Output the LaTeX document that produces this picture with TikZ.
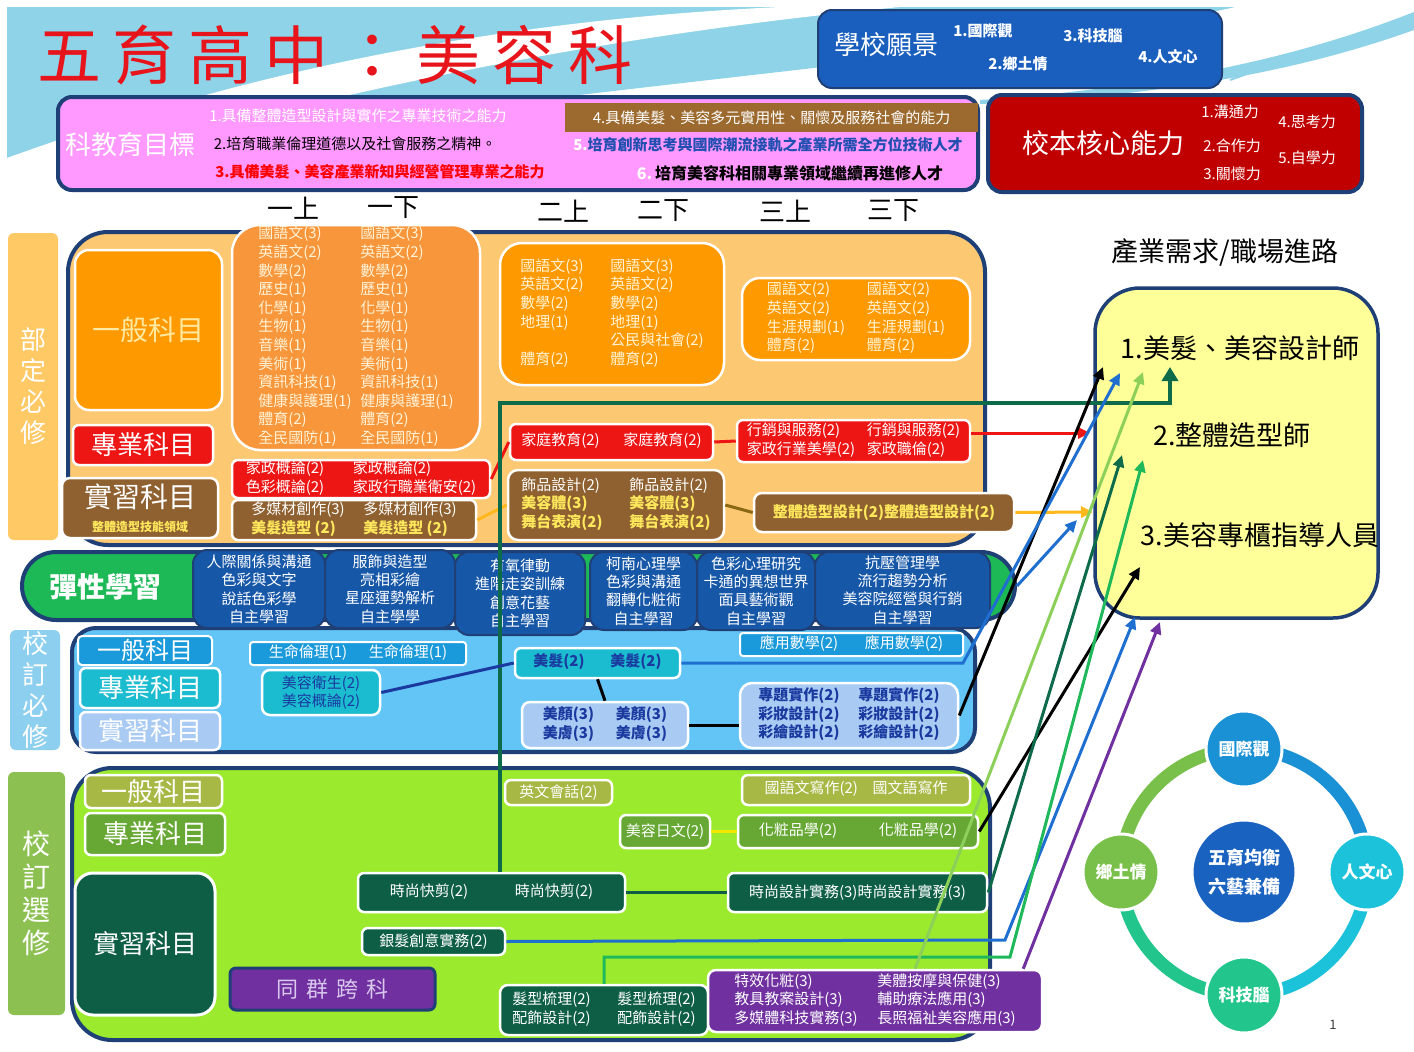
\documentclass[tikz,border=0pt]{standalone}
\usepackage{fontspec}
\setmainfont{Noto Sans CJK TC}
\usetikzlibrary{arrows.meta,positioning,calc}

\definecolor{skyback}{HTML}{8FD3E8}
\definecolor{titlered}{HTML}{E8141B}
\definecolor{frameblue}{HTML}{1F3F77}
\definecolor{visionblue}{HTML}{1A5FBE}
\definecolor{goalpink}{HTML}{FF99FF}
\definecolor{goalbrown}{HTML}{9C6A2E}
\definecolor{goalblue}{HTML}{1F4FB0}
\definecolor{corered}{HTML}{C00000}
\definecolor{buside}{HTML}{FFC966}
\definecolor{bupanel}{HTML}{FDC872}
\definecolor{buorange}{HTML}{FF9900}
\definecolor{bulight}{HTML}{F8963C}
\definecolor{orangetext}{HTML}{FFF3D6}
\definecolor{catyellow}{HTML}{FFE9A0}
\definecolor{pured}{HTML}{EE1515}
\definecolor{labbrown}{HTML}{8F6130}
\definecolor{labyellow}{HTML}{FFE85C}
\definecolor{flexgreen}{HTML}{1DB957}
\definecolor{flexblue}{HTML}{1657A8}
\definecolor{srside}{HTML}{8DCFEE}
\definecolor{srpanel}{HTML}{63C5F5}
\definecolor{srblue}{HTML}{1A9ADB}
\definecolor{srteal}{HTML}{1CBCD0}
\definecolor{srlav}{HTML}{A9CBF3}
\definecolor{srtext}{HTML}{1A3AA0}
\definecolor{seside}{HTML}{8CC152}
\definecolor{sepanel}{HTML}{9BEA2E}
\definecolor{seolive}{HTML}{A8B844}
\definecolor{segreen}{HTML}{66A833}
\definecolor{sedark}{HTML}{0D5E45}
\definecolor{sepurple}{HTML}{7030A0}
\definecolor{crosstext}{HTML}{D9C7EE}
\definecolor{careeryellow}{HTML}{FFFF99}
\definecolor{lnblue}{HTML}{1F6FD0}
\definecolor{lngreen}{HTML}{1FB85A}
\definecolor{lnlight}{HTML}{8CD05A}
\definecolor{lndark}{HTML}{0E6B4A}
\definecolor{lnorange}{HTML}{FFB81C}
\definecolor{lnbrown}{HTML}{8B6914}
\definecolor{lnjpn}{HTML}{F5E600}
\definecolor{wheelgreen}{HTML}{78C04A}
\definecolor{wheelblue}{HTML}{1A90D5}
\definecolor{wheelcyan}{HTML}{1CC2DA}
\definecolor{wheelteal}{HTML}{22C68C}
\definecolor{wheelcore}{HTML}{1A62C0}

\newcommand{\twocol}[2]{\begin{tabular}{@{}p{#1}@{}l@{}}#2\end{tabular}}
\newcommand{\yb}[1]{\leavevmode{\bfseries\color{labyellow}#1}}
\newcommand{\gapch}{\hspace{12pt}}

\begin{document}
\begin{tikzpicture}[x=1pt, y=-1pt,
  wh/.style 2 args={minimum width=#1, minimum height=#2},
  card/.style={draw=white, line width=2.5pt, rounded corners=6pt, inner sep=0pt, text=white, font=\fontsize{15}{18.6}\selectfont},
  panel/.style={draw=frameblue, line width=4pt, inner sep=0pt},
  sidelab/.style={rounded corners=6pt, inner sep=0pt, text=white, align=center, font=\fontsize{26}{31}\selectfont},
  cat/.style={card, font=\fontsize{26}{26}\selectfont},
  flexbox/.style={draw=frameblue, line width=2pt, rounded corners=14pt, fill=flexblue, inner sep=0pt, text=white, align=center, font=\fontsize{15}{18.4}\selectfont},
  goal/.style={inner sep=0pt, font=\fontsize{15}{15}\selectfont},
  item/.style={inner sep=0pt, text=white, font=\fontsize{15}{15}\selectfont},
  sem/.style={inner sep=0pt, font=\fontsize{26}{26}\selectfont},
  job/.style={inner sep=0pt, font=\fontsize{27}{27}\selectfont},
  bubble/.style={circle, draw=white, line width=3pt, inner sep=0pt, minimum size=76, text=white, font=\bfseries\fontsize{17}{17}\selectfont},
  link/.style={line width=3pt},
  arr/.style={line width=3pt, -{Triangle[length=12pt,width=11pt]}}]

\useasboundingbox (0,0) rectangle (1414,1052);
\fill[white] (0,0) rectangle (1414,1052);

% background swoosh
\fill[skyback] (7,7) -- (1235,7) .. controls (1000,60) and (500,90) .. (7,175) -- cycle;
\fill[white] (7,158) .. controls (250,70) and (500,20) .. (780,7) -- (900,7) .. controls (550,40) and (260,110) .. (7,185) -- cycle;
\fill[skyback] (980,100) .. controls (1200,85) and (1330,45) .. (1414,12) -- (1414,30) .. controls (1330,60) and (1200,95) .. (980,104) -- cycle;
\draw[skyback, line width=2pt] (1230,80) .. controls (1300,55) and (1360,35) .. (1414,22);

% title and header boxes
\node[inner sep=0pt, text=titlered, font=\fontsize{64}{64}\selectfont] (title) at (335,55) {五\gapch 育\gapch 高\gapch 中\gapch ：\gapch 美\gapch 容\gapch 科};

\node[fill=visionblue, draw=frameblue, line width=2pt, rounded corners=14pt, wh={404}{78}] (vision) at (1020,49) {};
\node[inner sep=0pt, text=white, font=\fontsize{26}{26}\selectfont] (vision-t) at (886,45) {學校願景};
\node[item, font=\bfseries\fontsize{15}{15}\selectfont] (v1) at (983,31) {1.國際觀};
\node[item, font=\bfseries\fontsize{15}{15}\selectfont] (v3) at (1093,36) {3.科技腦};
\node[item, font=\bfseries\fontsize{15}{15}\selectfont] (v2) at (1018,64) {2.鄉土情};
\node[item, font=\bfseries\fontsize{15}{15}\selectfont] (v4) at (1168,57) {4.人文心};

\node[fill=goalpink, draw=frameblue, line width=4pt, rounded corners=14pt, wh={920}{93}] (goals) at (518,143.5) {};
\node[fill=goalbrown, inner sep=0pt, wh={413}{29}] (goal4bar) at (771.5,117.5) {};
\node[inner sep=0pt, text=white, font=\fontsize{26}{26}\selectfont] (goals-t) at (130,145) {科教育目標};
\node[goal, text=white] (g1) at (358,116) {1.具備整體造型設計與實作之專業技術之能力};
\node[goal, text=black] (g2) at (355,144) {2.培育職業倫理道德以及社會服務之精神。};
\node[goal, text=red, font=\bfseries\fontsize{15}{15}\selectfont] (g3) at (380,172) {3.具備美髮、美容產業新知與經營管理專業之能力};
\node[goal, text=white] (g4) at (771.5,117.5) {4.具備美髮、美容多元實用性、關懷及服務社會的能力};
\node[goal, text=goalblue, font=\bfseries\fontsize{15}{15}\selectfont] (g5) at (768,145) {{\color{white}5.}培育創新思考與國際潮流接軌之產業所需全方位技術人才};
\node[goal, text=black, font=\bfseries\fontsize{16}{16}\selectfont] (g6) at (790,173) {{\color{white}6.}\,培育美容科相關專業領域繼續再進修人才};

\node[fill=corered, draw=frameblue, line width=4pt, rounded corners=14pt, wh={374}{97}] (core) at (1175,143.5) {};
\node[inner sep=0pt, text=white, font=\fontsize{27}{27}\selectfont] (core-t) at (1103,143) {校本核心能力};
\node[item] (c1) at (1230,112) {1.溝通力};
\node[item] (c2) at (1232,146) {2.合作力};
\node[item] (c3) at (1232,174) {3.關懷力};
\node[item] (c4) at (1307,122) {4.思考力};
\node[item] (c5) at (1307,158) {5.自學力};

% semesters
\node[sem] (s11) at (293,208) {一上};
\node[sem] (s12) at (393,208) {一下};
\node[sem] (s21) at (563,211) {二上};
\node[sem] (s22) at (663,211) {二下};
\node[sem] (s31) at (785,211) {三上};
\node[sem] (s32) at (893,211) {三下};

% panels
\node[sidelab, fill=buside, wh={50}{307}] (bu-side) at (33,386.5) {部\\定\\必\\修};
\node[panel, fill=bupanel, rounded corners=40pt, wh={917}{313}] (bu-panel) at (526.5,388.5) {};
\node[sidelab, fill=srside, wh={50}{120}] (sr-side) at (35,690) {校\\訂\\必\\修};
\node[panel, fill=srpanel, rounded corners=24pt, wh={903}{124}] (sr-panel) at (523.5,690) {};
\node[sidelab, fill=seside, wh={57}{243}, font=\fontsize{28}{33}\selectfont] (se-side) at (36.5,893.5) {校\\訂\\選\\修};
\node[panel, fill=sepanel, rounded corners=40pt, wh={918}{272}] (se-panel) at (531,904) {};

% required by ministry
\node[cat, fill=buorange, rounded corners=14pt, text=catyellow, font=\fontsize{28}{28}\selectfont, wh={147}{160}] (bu-gen) at (148.5,330) {一般科目};
\node[cat, fill=pured, wh={140}{40}] (bu-pro) at (143,445) {專業科目};
\node[cat, fill=labbrown, rounded corners=8pt, wh={156}{60}, align=center] (bu-lab) at (140,508) {\fontsize{28}{28}\selectfont 實習科目\\[-2pt]\fontsize{12}{12}\selectfont\bfseries\color{labyellow}整體造型技能領域};

\node[card, fill=bulight, rounded corners=28pt, text=orangetext, wh={248}{225}] (bu-g1) at (356,337.5) {\twocol{102pt}{國語文(3) & 國語文(3)\\ 英語文(2) & 英語文(2)\\ 數學(2) & 數學(2)\\ 歷史(1) & 歷史(1)\\ 化學(1) & 化學(1)\\ 生物(1) & 生物(1)\\ 音樂(1) & 音樂(1)\\ 美術(1) & 美術(1)\\ 資訊科技(1) & 資訊科技(1)\\ 健康與護理(1) & 健康與護理(1)\\ 體育(2) & 體育(2)\\ 全民國防(1) & 全民國防(1)}};
\node[card, fill=buorange, rounded corners=22pt, text=orangetext, wh={224}{142}] (bu-g2) at (612,314) {\twocol{90pt}{國語文(3) & 國語文(3)\\ 英語文(2) & 英語文(2)\\ 數學(2) & 數學(2)\\ 地理(1) & 地理(1)\\ & 公民與社會(2)\\ 體育(2) & 體育(2)}};
\node[card, fill=buorange, rounded corners=18pt, text=orangetext, wh={228}{82}] (bu-g3) at (856,319) {\twocol{100pt}{國語文(2) & 國語文(2)\\ 英語文(2) & 英語文(2)\\ 生涯規劃(1) & 生涯規劃(1)\\ 體育(2) & 體育(2)}};

\node[card, fill=pured, wh={258}{38}] (bu-p1) at (361,479) {\twocol{107pt}{家政概論(2) & 家政概論(2)\\ 色彩概論(2) & 家政行職業衛安(2)}};
\node[card, fill=pured, wh={203}{36}] (bu-p2) at (611.5,442) {\twocol{102pt}{家庭教育(2) & 家庭教育(2)}};
\node[card, fill=pured, wh={233}{42}] (bu-p3) at (853.5,441) {\twocol{120pt}{行銷與服務(2) & 行銷與服務(2)\\ 家政行業美學(2) & 家政職倫(2)}};

\node[card, fill=labbrown, wh={244}{40}] (bu-l1) at (354,520) {\twocol{112pt}{多媒材創作(3) & 多媒材創作(3)\\ \yb{美髮造型 (2)} & \yb{美髮造型 (2)}}};
\node[card, fill=labbrown, rounded corners=10pt, wh={216}{70}] (bu-l2) at (616,505) {\twocol{108pt}{飾品設計(2) & 飾品設計(2)\\ \yb{美容體(3)} & \yb{美容體(3)}\\ \yb{舞台表演(2)} & \yb{舞台表演(2)}}};
\node[card, fill=labbrown, rounded corners=8pt, text=labyellow, font=\bfseries\fontsize{15}{18.6}\selectfont, wh={260}{39}] (bu-l3) at (884,512.5) {整體造型設計(2)整體造型設計(2)};

% flexible learning
\node[fill=flexgreen, draw=frameblue, line width=4pt, rounded corners=34pt, wh={993}{68}] (flex) at (518.5,586) {};
\node[inner sep=0pt, text=white, font=\bfseries\fontsize{28}{28}\selectfont] (flex-t) at (105,587) {彈性學習};
\node[flexbox, wh={132}{78}] (fx1) at (259,589) {人際關係與溝通\\色彩與文字\\說話色彩學\\自主學習};
\node[flexbox, wh={130}{78}] (fx2) at (390,589) {服飾與造型\\亮相彩繪\\星座運勢解析\\自主學學};
\node[flexbox, wh={130}{83}] (fx3) at (520,593.5) {有氧律動\\進階走姿訓練\\創意花藝\\自主學習};
\node[flexbox, wh={107}{78}] (fx4) at (643.5,591) {柯南心理學\\色彩與溝通\\翻轉化粧術\\自主學習};
\node[flexbox, wh={118}{78}] (fx5) at (756,591) {色彩心理研究\\卡通的異想世界\\面具藝術觀\\自主學習};
\node[flexbox, wh={175}{76}] (fx6) at (902.5,590) {抗壓管理學\\流行趨勢分析\\美容院經營與行銷\\自主學習};

% school required
\node[cat, fill=srblue, line width=2pt, rounded corners=4pt, font=\fontsize{24}{24}\selectfont, wh={134}{29}] (sr-gen) at (145,650.5) {一般科目};
\node[cat, fill=srteal, wh={140}{40}] (sr-pro) at (150,688) {專業科目};
\node[cat, fill=srlav, wh={140}{38}] (sr-lab) at (150,731) {實習科目};
\node[card, fill=srblue, line width=2pt, rounded corners=3pt, wh={216}{23}] (sr-life) at (358,653.5) {\twocol{100pt}{生命倫理(1) & 生命倫理(1)}};
\node[card, fill=srteal, rounded corners=8pt, text=srtext, align=center, wh={118}{45}] (sr-care) at (321,692.5) {美容衛生(2)\\美容概論(2)};
\node[card, fill=srteal, text=srtext, font=\bfseries\fontsize{15}{18.6}\selectfont, wh={165}{30}] (sr-hair) at (597.5,663) {\twocol{77pt}{美髮(2) & 美髮(2)}};
\node[card, fill=srblue, line width=2pt, rounded corners=3pt, wh={223}{23}] (sr-math) at (851.5,644.5) {\twocol{105pt}{應用數學(2) & 應用數學(2)}};
\node[card, fill=srlav, rounded corners=8pt, text=srtext, font=\bfseries\fontsize{15}{18.6}\selectfont, wh={166}{46}] (sr-face) at (605,725) {\twocol{73pt}{美顏(3) & 美顏(3)\\ 美膚(3) & 美膚(3)}};
\node[card, fill=srlav, rounded corners=12pt, text=srtext, font=\bfseries\fontsize{15}{18.6}\selectfont, wh={218}{65}] (sr-proj) at (849,715.5) {\twocol{100pt}{專題實作(2) & 專題實作(2)\\ 彩妝設計(2) & 彩妝設計(2)\\ 彩繪設計(2) & 彩繪設計(2)}};

% school elective
\node[cat, fill=seolive, wh={137}{33}] (se-gen) at (153.5,791.5) {一般科目};
\node[cat, fill=segreen, wh={140}{42}] (se-pro) at (155,834) {專業科目};
\node[cat, fill=sedark, line width=3pt, rounded corners=18pt, wh={140}{142}] (se-lab) at (145,944) {實習科目};
\node[fill=sepurple, draw=frameblue, line width=3pt, rounded corners=6pt, text=crosstext, font=\fontsize{22}{22}\selectfont, wh={205}{42}] (se-cross) at (332.5,989) {同\hspace{8pt}群\hspace{8pt}跨\hspace{8pt}科};
\node[card, fill=seolive, wh={107}{25}] (se-eng) at (558.5,792.5) {英文會話(2)};
\node[card, fill=seolive, wh={228}{30}] (se-chn) at (856,790) {\twocol{108pt}{國語文寫作(2) & 國文語寫作}};
\node[card, fill=segreen, wh={90}{33}] (se-jpn) at (665,831.5) {美容日文(2)};
\node[card, fill=segreen, wh={240}{33}] (se-cos) at (858,831.5) {\twocol{120pt}{化粧品學(2) & 化粧品學(2)}};
\node[card, fill=sedark, wh={267}{39}] (se-cut) at (491.5,892.5) {\twocol{125pt}{時尚快剪(2) & 時尚快剪(2)}};
\node[card, fill=sedark, wh={259}{39}] (se-fash) at (857.5,892.5) {時尚設計實務(3)時尚設計實務(3)};
\node[card, fill=sedark, wh={143}{27}] (se-silver) at (433.5,941.5) {銀髮創意實務(2)};
\node[card, fill=sedark, rounded corners=8pt, wh={208}{50}] (se-style) at (604,1010) {\twocol{105pt}{髮型梳理(2) & 髮型梳理(2)\\ 配飾設計(2) & 配飾設計(2)}};
\node[card, fill=sepurple, rounded corners=8pt, wh={334}{62}] (se-spec) at (875,1001) {\twocol{143pt}{特效化粧(3) & 美體按摩與保健(3)\\ 教具教案設計(3) & 輔助療法應用(3)\\ 多媒體科技實務(3) & 長照福祉美容應用(3)}};

% careers
\node[inner sep=0pt, font=\fontsize{27}{27}\selectfont] (career-t) at (1225,252) {產業需求/職場進路};
\node[fill=careeryellow, draw=frameblue, line width=3.5pt, rounded corners=45pt, wh={283}{330}] (career) at (1236.5,453) {};
\node[job] (job1) at (1240,348) {1.美髮、美容設計師};
\node[job] (job2) at (1232,435) {2.整體造型師};
\node[job] (job3) at (1260,535) {3.美容專櫃指導人員};

\coordinate (t-red) at (1090,433);
\coordinate (t-orange) at (1093,512);
\coordinate (t-dg) at (1170,367);
\coordinate (t-black1) at (1103,367);
\coordinate (t-blue1) at (1120,373);
\coordinate (t-light) at (1143,372);
\coordinate (t-dark2) at (1122,455);
\coordinate (t-green2) at (1143,460);
\coordinate (t-black3) at (1140,567);
\coordinate (t-blue3) at (1135,617);
\coordinate (t-purple3) at (1160,622);
\coordinate (t-flex) at (1077,520);
\coordinate (k-dg) at (500,403);
\coordinate (k-hair) at (963,663);
\coordinate (k-silver) at (1005,940);
\coordinate (k-style) at (1010,957);

% connectors
\draw[link, pured] (bu-p1.east) -- (bu-p2.west);
\draw[link, pured] (bu-p2.east) -- (bu-p3.west);
\draw[arr, pured] (bu-p3.east |- t-red) -- (t-red);
\draw[link, lnorange] (bu-l1.east) -- (bu-l2.west);
\draw[link, lnbrown] (bu-l2.east) -- (bu-l3.west);
\draw[arr, lnorange] (bu-l3.east) -- (t-orange);
\draw[link, lndark, line width=3.5pt, -{Triangle[length=14pt,width=16pt]}] (se-cut.north -| k-dg) -- (k-dg) -| (t-dg);
\draw[link, srtext] (sr-care.east) -- (sr-hair.west);
\draw[link, black] (sr-hair.south) -- (sr-face.north);
\draw[link, black] (sr-face.east) -- (sr-face.east -| sr-proj.west);
\draw[arr, black] (sr-proj.east) -- (t-black1);
\draw[arr, lnblue] (sr-hair.east) -- (k-hair) -- (t-blue1);
\draw[arr, lnblue] (flex.east) -- (t-flex);
\draw[link, lnjpn] (se-jpn.east) -- (se-cos.west);
\draw[link, sedark] (se-cut.east) -- (se-fash.west);
\draw[arr, black] (se-cos.east) -- (t-black3);
\draw[arr, lndark] (se-fash.east) -- (t-dark2);
\draw[arr, lnblue] (se-silver.east) -- (k-silver) -- (t-blue3);
\draw[arr, lngreen] (se-style.north) |- (k-style) -- (t-green2);
\draw[arr, lnlight] ([xshift=40pt]se-spec.north) -- (t-light);
\draw[arr, sepurple] ([xshift=-20pt]se-spec.north east) -- (t-purple3);

% wheel
\foreach \a/\c in {180/wheelgreen, 270/wheelblue, 0/wheelcyan, 90/wheelteal}
  \draw[line width=13pt, \c] (1244,872) ++(\a:123) arc[start angle=\a, end angle=\a+90, radius=123];
\node[bubble, fill=wheelblue] (w-top) at (1244,749) {國際觀};
\node[bubble, fill=wheelcyan] (w-right) at (1367,872) {人文心};
\node[bubble, fill=wheelteal] (w-bottom) at (1244,995) {科技腦};
\node[bubble, fill=wheelgreen] (w-left) at (1121,872) {鄉土情};
\node[bubble, fill=wheelcore, minimum size=104, align=center, font=\bfseries\fontsize{18}{29}\selectfont] (w-core) at (1244,872) {五育均衡\\六藝兼備};

\node[inner sep=0pt, text=black!75, font=\fontsize{13}{13}\selectfont] (pageno) at (1333,1025) {1};
\end{tikzpicture}
\end{document}
